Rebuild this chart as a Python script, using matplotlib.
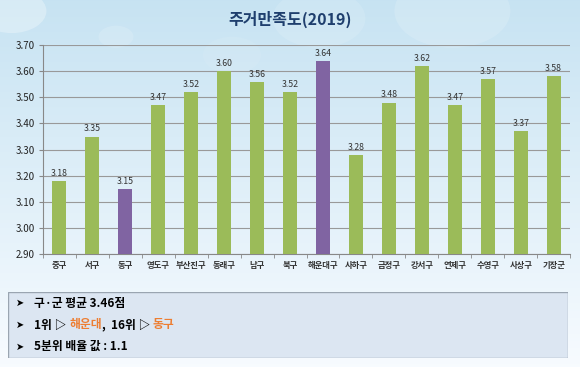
import numpy as np
import matplotlib
matplotlib.use("Agg")
import matplotlib.pyplot as plt
from matplotlib.patches import Rectangle, Circle

plt.rcParams['font.family'] = ['Noto Sans CJK KR', 'DejaVu Sans']

districts = ["중구", "서구", "동구", "영도구", "부산진구", "동래구", "남구", "북구",
             "해운대구", "사하구", "금정구", "강서구", "연제구", "수영구", "사상구", "기장군"]
scores = [3.18, 3.35, 3.15, 3.47, 3.52, 3.60, 3.56, 3.52,
          3.64, 3.28, 3.48, 3.62, 3.47, 3.57, 3.37, 3.58]
highlight = ["동구", "해운대구"]
yticks = [2.90, 3.00, 3.10, 3.20, 3.30, 3.40, 3.50, 3.60, 3.70]

GREEN = "#9bbb59"
PURPLE = "#8064a2"
ORANGE = "#ed7d31"

fig = plt.figure(figsize=(5.8, 3.67), dpi=100)

# background gradient + a few soft bokeh spots
bg = fig.add_axes([0, 0, 1, 1], zorder=-10)
grad = np.linspace(0, 1, 256)[:, None]
top = np.array([0.78, 0.89, 0.95])
bot = np.array([0.97, 0.985, 1.0])
img = top[None, None, :] * (1 - grad[..., None]) + bot[None, None, :] * grad[..., None]
img = np.repeat(img, 2, axis=1)
bg.imshow(img, aspect="auto", extent=[0, 1, 0, 1], origin="upper")
for (cx, cy, r, a) in [(0.02, 0.97, 0.06, 0.3), (0.2, 0.9, 0.03, 0.15), (0.55, 0.95, 0.08, 0.12),
                       (0.78, 0.97, 0.1, 0.15), (0.4, 0.85, 0.05, 0.08)]:
    bg.add_patch(Circle((cx, cy), r, color="white", alpha=a, lw=0, transform=bg.transAxes))
bg.set_xlim(0, 1); bg.set_ylim(0, 1)
bg.axis("off")

ax = fig.add_axes([0.074, 0.308, 0.909, 0.569])
ax.patch.set_alpha(0)
x = np.arange(len(districts))
colors = [PURPLE if d in highlight else GREEN for d in districts]
ax.bar(x, [s - 2.9 for s in scores], bottom=2.9, width=0.42, color=colors, zorder=3)
for xi, s in zip(x, scores):
    ax.text(xi, s + 0.012, f"{s:.2f}", ha="center", va="bottom", fontsize=6.3,
            color="#333333", zorder=4)

ax.set_ylim(2.9, 3.7)
ax.set_yticks(yticks)
ax.set_yticklabels([f"{v:.2f}" for v in yticks], fontsize=7, color="#222222")
ax.set_xlim(-0.5, len(districts) - 0.5)
ax.set_xticks(x)
ax.set_xticklabels(districts, fontsize=6, color="#333333", fontweight="bold")
ax.set_xticks(np.arange(-0.5, len(districts)), minor=True)
ax.tick_params(axis="x", which="major", length=0, pad=5)
ax.tick_params(axis="x", which="minor", length=3, color="#888888")
ax.tick_params(axis="y", length=3, color="#888888", pad=3)
ax.grid(axis="y", color="#999999", lw=0.8, zorder=0)
for side in ["top", "right"]:
    ax.spines[side].set_visible(False)
for side in ["left", "bottom"]:
    ax.spines[side].set_color("#888888")

fig.text(0.5, 0.948, "주거만족도(2019)", ha="center", va="center", fontsize=11.5,
         fontweight="bold", color="#1f3f6e")

# summary box
box = fig.add_axes([0.014, 0.025, 0.965, 0.179])
box.set_xlim(0, 1); box.set_ylim(0, 1)
box.add_patch(Rectangle((0, 0), 1, 1, facecolor="#dce6f2", edgecolor="#9aa5b1", lw=1,
                        transform=box.transAxes))
box.axis("off")

lines = [
    [("구·군 평균 3.46점", "black")],
    [("1위 ▷ ", "black"), ("해운대", ORANGE), (",  16위 ▷ ", "black"), ("동구", ORANGE)],
    [("5분위 배율 값 : 1.1", "black")],
]
ys = [0.83, 0.5, 0.17]
for y, parts in zip(ys, lines):
    box.text(0.014, y, "➤", fontsize=7, va="center", ha="left", color="black",
             family=["DejaVu Sans"])
    prev = None
    for txt, col in parts:
        if prev is None:
            prev = box.text(0.047, y, txt, fontsize=8.5, fontweight="bold", va="center",
                            ha="left", color=col)
        else:
            prev = box.annotate(txt, xy=(1, 0.5), xycoords=prev, va="center", ha="left",
                                fontsize=8.5, fontweight="bold", color=col)

fig.savefig("out.png", dpi=100)
